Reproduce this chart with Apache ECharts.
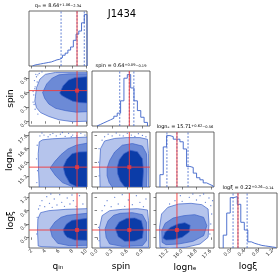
<!DOCTYPE html>
<html><head><meta charset="utf-8">
<script src="https://cdn.jsdelivr.net/npm/echarts@6/dist/echarts.min.js"></script>
<style>html,body{margin:0;padding:0;background:#fff}#c{width:280px;height:277px}</style>
</head><body><div id="c"></div>
<script>
// ---------------- data ----------------
const chartTitle = 'J1434';
const varNames = ['qᵢₙ', 'spin', 'lognₑ', 'logξ'];
const qinTicks = [2, 4, 6, 8, 10];
const spinTicks = [0.0, 0.3, 0.6, 0.9];
const lognTicks = [15.2, 16.0, 16.8, 17.6];
const xiTicks = [0.0, 0.4, 0.8, 1.2];

const truthQin = 8.64, truthSpin = 0.64, truthLogn = 15.71, truthXi = 0.22;

const qinHistEdges = [2.1,2.5,2.9,3.3,3.7,4.1,4.5,4.9,5.3,5.7,6.1,6.5,6.9,7.3,7.7,8.1,8.5,8.9,9.3,9.7,10.1];
const qinHistCounts = [0.02,0.03,0.04,0.05,0.06,0.07,0.08,0.10,0.12,0.13,0.16,0.21,0.25,0.31,0.37,0.50,0.62,0.68,0.84,1.00];
const spinHistEdges = [0,0.067,0.133,0.2,0.267,0.333,0.4,0.467,0.533,0.6,0.667,0.733,0.8,0.867,0.933,1.0];
const spinHistCounts = [0.03,0.06,0.09,0.12,0.15,0.19,0.25,0.49,0.93,1.0,0.74,0.49,0.30,0.17,0.07];
const lognHistEdges = [14.76,14.946,15.132,15.318,15.504,15.69,15.876,16.062,16.248,16.434,16.62,16.806,16.992,17.178,17.364,17.55,17.736];
const lognHistCounts = [0.24,0.78,1.0,0.98,0.93,0.93,0.88,0.74,0.40,0.38,0.27,0.18,0.14,0.08,0.05,0.02];
const xiHistEdges = [-0.2,-0.1,0,0.1,0.2,0.3,0.4,0.5,0.6,0.7,0.8,0.9,1.0,1.1,1.2,1.3];
const xiHistCounts = [0.25,0.68,0.98,1.0,0.85,0.5,0.35,0.12,0.09,0.07,0.05,0.04,0.03,0.02,0.01];

const qinQuantiles = [6.30, 8.64, 9.70];
const spinQuantiles = [0.45, 0.64, 0.73];
const lognQuantiles = [15.15, 15.71, 16.33];
const xiQuantiles = [0.08, 0.22, 0.48];

const qinTitle = ['qᵢₙ = 8.64', '+1.06', '−2.34'];
const spinTitle = ['spin = 0.64', '+0.09', '−0.19'];
const lognTitle = ['lognₑ = 15.71', '+0.62', '−0.56'];
const xiTitle = ['logξ = 0.22', '+0.26', '−0.14'];

// 2D contours (outer / middle / core) and outlying samples
const qinSpinOuter = [[2.45,0.42],[2.7,0.7],[3.2,0.88],[4,0.98],[5.5,1.02],[10.1,1.02],[10.1,0.0],[8,-0.01],[6,0.03],[4.5,0.1],[3.3,0.18],[2.7,0.28]];
const qinSpinMid = [[3.6,0.6],[4.2,0.78],[5,0.9],[6,0.97],[7.5,0.99],[10.1,0.99],[10.1,0.2],[8.5,0.19],[7,0.22],[5.5,0.27],[4.5,0.36],[3.9,0.48]];
const qinSpinCore = [[6.1,0.59],[6.6,0.74],[7.4,0.86],[8.3,0.91],[10.1,0.93],[10.1,0.38],[9,0.39],[8,0.42],[7,0.49],[6.4,0.54]];
const qinSpinDots = [[2.3,0.55],[2.5,0.72],[2.4,0.85],[2.7,0.93],[2.9,0.97],[2.2,0.62],[2.6,0.5],[3.1,1.0],[2.35,0.35],[2.5,0.25],[2.9,0.15],[2.2,0.4],[2.8,0.82],[2.6,0.98],[3.5,1.03],[2.45,0.68]];

const qinLognOuter = [[3.1,14.54],[3.0,15.5],[2.95,16.5],[3.1,17.2],[3.6,17.32],[5,17.38],[7,17.42],[10.1,17.48],[10.1,14.54]];
const qinLognMid = [[4.7,15.66],[5.4,16.05],[6.3,16.45],[7.3,16.78],[8.5,17.0],[10.1,17.12],[10.1,14.54],[8,14.56],[6.5,14.8],[5.5,15.2]];
const qinLognCore = [[6.6,15.72],[7.1,16.15],[7.9,16.5],[8.9,16.6],[10.1,16.62],[10.1,14.54],[8.6,14.56],[7.6,14.75],[6.9,15.25]];
const qinLognDots = [[3.2,17.55],[3.8,17.6],[4.4,17.5],[5.1,17.7],[5.6,17.55],[6.2,17.65],[6.9,17.52],[7.4,17.7],[8.0,17.6],[8.6,17.55],[9.2,17.7],[9.8,17.6],[3.5,17.72],[4.7,17.62],[6.5,17.75],[2.8,17.0],[2.7,16.2],[2.85,15.5],[2.75,14.8],[7.8,17.5]];

const qinXiOuter = [[2.95,-0.26],[2.85,0.2],[2.9,0.55],[3.3,0.74],[4.5,0.8],[7,0.84],[10.1,0.86],[10.1,-0.3],[6,-0.3],[3.5,-0.28]];
const qinXiMid = [[4.7,0.26],[5.4,0.46],[6.3,0.6],[7.2,0.66],[10.1,0.72],[10.1,-0.24],[7.5,-0.25],[5.8,-0.18],[5.0,0.02]];
const qinXiCore = [[6.6,0.23],[7.1,0.4],[7.9,0.51],[10.1,0.57],[10.1,-0.09],[8.3,-0.08],[7.2,0.0],[6.8,0.1]];
const qinXiDots = [[3.2,0.95],[3.5,1.1],[3.9,0.92],[4.2,1.22],[4.6,1.02],[5.0,0.9],[5.3,1.15],[5.7,0.97],[6.1,1.28],[6.4,1.05],[6.8,0.93],[7.2,1.18],[7.6,1.0],[8.1,1.1],[8.5,0.93],[9.0,1.25],[9.5,1.0],[3.0,0.85],[2.8,0.6],[2.75,0.1],[4.8,1.3],[7.9,1.27]];

const spinLognOuter = [[0.06,14.54],[0.05,15.8],[0.07,16.8],[0.15,17.25],[0.35,17.4],[0.6,17.45],[0.85,17.45],[1.0,17.35],[1.02,16.5],[1.02,14.54]];
const spinLognMid = [[0.2,15.66],[0.25,16.1],[0.35,16.6],[0.5,17.0],[0.7,17.1],[0.9,16.95],[0.98,16.5],[0.99,15.5],[0.98,14.54],[0.3,14.54],[0.24,14.8],[0.2,15.2]];
const spinLognCore = [[0.4,15.7],[0.44,16.15],[0.53,16.5],[0.66,16.7],[0.8,16.62],[0.9,16.2],[0.92,15.5],[0.9,14.54],[0.55,14.54],[0.46,14.9],[0.41,15.3]];
const spinLognDots = [[0.1,17.3],[0.15,17.5],[0.22,17.65],[0.3,17.55],[0.38,17.72],[0.45,17.6],[0.52,17.55],[0.6,17.7],[0.68,17.6],[0.75,17.52],[0.82,17.68],[0.9,17.58],[0.97,17.5],[0.04,16.8],[0.03,16.0],[0.04,15.2]];

const spinXiOuter = [[0.06,-0.3],[0.05,0.3],[0.1,0.65],[0.25,0.8],[0.5,0.84],[0.8,0.86],[1.0,0.82],[1.02,0.5],[1.02,-0.3]];
const spinXiMid = [[0.16,0.26],[0.22,0.5],[0.33,0.66],[0.46,0.72],[0.7,0.74],[0.9,0.68],[0.98,0.45],[0.98,-0.1],[0.9,-0.25],[0.5,-0.27],[0.25,-0.2],[0.18,0.0]];
const spinXiCore = [[0.36,0.27],[0.44,0.46],[0.59,0.57],[0.75,0.58],[0.88,0.5],[0.92,0.25],[0.9,-0.02],[0.75,-0.11],[0.55,-0.12],[0.42,0.02]];
const spinXiDots = [[0.1,0.8],[0.15,0.95],[0.2,1.1],[0.28,0.92],[0.35,1.2],[0.42,1.0],[0.5,1.28],[0.55,0.93],[0.62,1.12],[0.7,0.98],[0.78,1.25],[0.85,1.05],[0.92,0.92],[0.97,1.15],[0.03,0.3],[0.04,-0.1]];

const lognXiOuter = [[14.76,-0.3],[14.74,0.3],[14.85,0.7],[15.2,0.9],[15.8,1.0],[16.5,1.02],[17.1,0.98],[17.45,0.85],[17.5,0.4],[17.45,0.0],[17.0,-0.2],[16.2,-0.3],[15.3,-0.32]];
const lognXiMid = [[14.88,-0.15],[14.86,0.2],[15.05,0.42],[15.5,0.58],[16.1,0.65],[16.7,0.68],[17.2,0.6],[17.38,0.35],[17.2,0.05],[16.6,-0.12],[15.8,-0.2],[15.1,-0.22]];
const lognXiCore = [[14.93,-0.02],[15.05,0.15],[15.35,0.3],[15.75,0.4],[16.15,0.44],[16.45,0.36],[16.4,0.16],[16.0,0.0],[15.5,-0.07],[15.1,-0.08]];
const lognXiDots = [[16.0,1.08],[16.4,1.2],[16.8,1.12],[17.0,1.25],[17.3,1.05],[17.5,1.18],[17.6,0.95],[17.65,0.7],[17.6,0.4],[15.6,1.1],[15.3,1.0],[16.6,1.3],[17.2,1.3],[17.7,1.1],[15.9,1.25],[17.55,0.1]];

// ---------------- build ----------------
const FONT = 'DejaVu Sans';
const LINE = '#3d63c9', RED = '#f23a3a';
const FILLS = ['#b5c4ec', '#6c8ad6', '#0b3ca8'];
const colLeft = [29, 92, 156, 219], rowTop = [11, 71, 132, 193], PW = 58, PH = 55;
const HMAX = 1.07;

const vars = [
  {min:1.6, max:10.1, ticks:qinTicks, dec:0, name:varNames[0], truth:truthQin,
   hist:[qinHistEdges, qinHistCounts], quant:qinQuantiles, title:qinTitle},
  {min:-0.1, max:1.05, ticks:spinTicks, dec:1, name:varNames[1], truth:truthSpin,
   hist:[spinHistEdges, spinHistCounts], quant:spinQuantiles, title:spinTitle},
  {min:14.54, max:17.78, ticks:lognTicks, dec:1, name:varNames[2], truth:truthLogn,
   hist:[lognHistEdges, lognHistCounts], quant:lognQuantiles, title:lognTitle},
  {min:-0.32, max:1.33, ticks:xiTicks, dec:1, name:varNames[3], truth:truthXi,
   hist:[xiHistEdges, xiHistCounts], quant:xiQuantiles, title:xiTitle}
];
const pairs = {
  '1_0':[qinSpinOuter, qinSpinMid, qinSpinCore, qinSpinDots],
  '2_0':[qinLognOuter, qinLognMid, qinLognCore, qinLognDots],
  '3_0':[qinXiOuter, qinXiMid, qinXiCore, qinXiDots],
  '2_1':[spinLognOuter, spinLognMid, spinLognCore, spinLognDots],
  '3_1':[spinXiOuter, spinXiMid, spinXiCore, spinXiDots],
  '3_2':[lognXiOuter, lognXiMid, lognXiCore, lognXiDots]
};

function stepPts(edges, h) {
  const p = [[edges[0], 0]];
  for (let i = 0; i < h.length; i++) { p.push([edges[i], h[i]]); p.push([edges[i+1], h[i]]); }
  p.push([edges[edges.length-1], 0]);
  return p;
}
function axisCfg(v, dir, showLabel, gi) {
  const a = {gridIndex:gi, type:'value', min:v.min, max:v.max,
    axisLine:{show:false},
    axisTick:{show:true, customValues:v.ticks, length:2.5, lineStyle:{color:'#333', width:0.6}},
    axisLabel:{show:showLabel, customValues:v.ticks, rotate:45, fontSize:5, fontFamily:FONT, color:'#333', margin:2,
      formatter:(val)=>Number(val).toFixed(v.dec)},
    splitLine:{show:false}};
  if (showLabel) {
    a.name = v.name; a.nameLocation = 'middle';
    a.nameGap = dir === 'x' ? 14 : 14;
    a.nameTextStyle = {fontSize:9, fontFamily:FONT, color:'#000'};
    if (dir === 'y') a.nameRotate = 90;
  }
  return a;
}
function line(gi, data, style, z) {
  return {type:'line', xAxisIndex:gi, yAxisIndex:gi, data, symbol:'none', showSymbol:false,
    lineStyle:style, silent:true, animation:false, z:z||3};
}
function poly(gi, pts, fill) {
  return {type:'custom', xAxisIndex:gi, yAxisIndex:gi, data:[0], silent:true, animation:false, clip:true, z:2,
    renderItem:(params, api) => ({type:'polygon', shape:{points:pts.map(p => api.coord(p))},
      style:{fill:fill, stroke:LINE, lineWidth:0.7}})};
}

const grids = [], xAxes = [], yAxes = [], series = [], graphics = [];
let gi = 0;
for (let r = 0; r < 4; r++) {
  for (let c = 0; c <= r; c++) {
    grids.push({left:colLeft[c], top:rowTop[r], width:PW, height:PH, show:true, borderColor:'#444', borderWidth:0.8});
    xAxes.push(axisCfg(vars[c], 'x', r === 3, gi));
    if (r === c) {
      yAxes.push({gridIndex:gi, type:'value', min:0, max:HMAX, axisLine:{show:false}, axisTick:{show:false},
        axisLabel:{show:false}, splitLine:{show:false}});
      const v = vars[c];
      series.push(line(gi, stepPts(v.hist[0], v.hist[1]), {color:LINE, width:0.9}, 3));
      v.quant.forEach(q => series.push(line(gi, [[q,0],[q,HMAX]], {color:LINE, width:0.8, type:[2,1.5]}, 4)));
      series.push(line(gi, [[v.truth,0],[v.truth,HMAX]], {color:RED, width:0.9}, 5));
      graphics.push({type:'text', x:colLeft[c] + PW/2, y:rowTop[r] - 5, silent:true,
        style:{text: v.title[0] + '{p|' + v.title[1] + '}{b|' + v.title[2] + '}', fontSize:5, fontFamily:FONT, fill:'#000',
          align:'center', verticalAlign:'middle',
          rich:{p:{fontSize:3.6, fontFamily:FONT, fill:'#000', verticalAlign:'top'},
                b:{fontSize:3.6, fontFamily:FONT, fill:'#000', verticalAlign:'bottom'}}}});
    } else {
      yAxes.push(axisCfg(vars[r], 'y', c === 0, gi));
      const [outer, mid, core, dots] = pairs[r + '_' + c];
      series.push({type:'scatter', xAxisIndex:gi, yAxisIndex:gi, data:dots, symbolSize:1.3,
        itemStyle:{color:LINE}, silent:true, animation:false, z:1});
      series.push(poly(gi, outer, FILLS[0]));
      series.push(poly(gi, mid, FILLS[1]));
      series.push(poly(gi, core, FILLS[2]));
      const vx = vars[c], vy = vars[r];
      series.push(line(gi, [[vx.truth, vy.min],[vx.truth, vy.max]], {color:RED, width:0.9}, 5));
      series.push(line(gi, [[vx.min, vy.truth],[vx.max, vy.truth]], {color:RED, width:0.9}, 5));
      series.push({type:'scatter', xAxisIndex:gi, yAxisIndex:gi, data:[[vx.truth, vy.truth]], symbol:'rect', symbolSize:4,
        itemStyle:{color:RED}, silent:true, animation:false, z:6});
    }
    gi++;
  }
}
graphics.push({type:'text', x:122, y:14, silent:true,
  style:{text:chartTitle, fontSize:10, fontFamily:FONT, fill:'#000', align:'center', verticalAlign:'middle'}});

const chart = echarts.init(document.getElementById('c'), null, {renderer:'canvas', width:280, height:277});
chart.setOption({animation:false, backgroundColor:'#fff', grid:grids, xAxis:xAxes, yAxis:yAxes, series:series, graphic:graphics});
</script></body></html>
